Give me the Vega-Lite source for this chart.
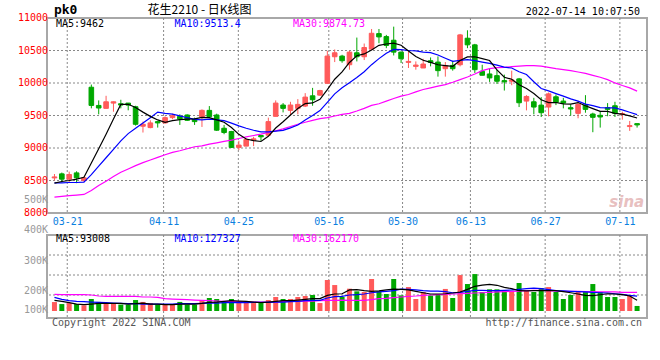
{
"$schema": "https://vega.github.io/schema/vega-lite/v6.json",
"background": "#ffffff",
"padding": {"left": 16, "top": 3, "right": 0, "bottom": 0},
"bounds": "flush",
"spacing": 22,
"config": {
 "font": "DejaVu Sans Mono",
 "view": {"stroke": "#a8a8a8", "strokeWidth": 2},
 "axis": {"labelFont": "DejaVu Sans Mono", "labelFontSize": 10, "ticks": false, "domain": false, "grid": false},
 "text": {"font": "DejaVu Sans Mono", "fontSize": 10}
},
"datasets": {"k": [
{"i":0,"d":"03-17","o":8540,"h":8600,"l":8500,"c":8555,"m5":8459,"m10":8464,"m30":8245,"v":71000,"vm5":85000,"vm10":108000,"vm30":132000},
{"i":1,"d":"03-18","o":8602,"h":8622,"l":8470,"c":8520,"m5":8485,"m10":8464,"m30":8256,"v":55000,"vm5":77000,"vm10":92000,"vm30":130000},
{"i":2,"d":"03-21","o":8520,"h":8637,"l":8475,"c":8592,"m5":8500,"m10":8469,"m30":8266,"v":63000,"vm5":66000,"vm10":82000,"vm30":130000},
{"i":3,"d":"03-22","o":8617,"h":8642,"l":8459,"c":8541,"m5":8520,"m10":8469,"m30":8276,"v":55000,"vm5":55000,"vm10":77000,"vm30":130000},
{"i":4,"d":"03-23","o":8500,"h":8561,"l":8480,"c":8541,"m5":8549,"m10":8474,"m30":8286,"v":45000,"vm5":50000,"vm10":74000,"vm30":130000},
{"i":5,"d":"03-24","o":9935,"h":9976,"l":9610,"c":9655,"m5":8770,"m10":8590,"m30":8347,"v":95000,"vm5":55000,"vm10":71000,"vm30":127000},
{"i":6,"d":"03-25","o":9655,"h":9732,"l":9518,"c":9615,"m5":8989,"m10":8720,"m30":8424,"v":72000,"vm5":61000,"vm10":69000,"vm30":119000},
{"i":7,"d":"03-28","o":9610,"h":9803,"l":9610,"c":9711,"m5":9213,"m10":8850,"m30":8490,"v":63000,"vm5":61000,"vm10":66000,"vm30":116000},
{"i":8,"d":"03-29","o":9691,"h":9715,"l":9558,"c":9711,"m5":9447,"m10":8980,"m30":8561,"v":63000,"vm5":61000,"vm10":63000,"vm30":116000},
{"i":9,"d":"03-30","o":9681,"h":9742,"l":9610,"c":9661,"m5":9671,"m10":9110,"m30":8627,"v":51000,"vm5":61000,"vm10":61000,"vm30":116000},
{"i":10,"d":"03-31","o":9691,"h":9691,"l":9580,"c":9660,"m5":9672,"m10":9221,"m30":8678,"v":51000,"vm5":55000,"vm10":58000,"vm30":116000},
{"i":11,"d":"04-01","o":9635,"h":9650,"l":9345,"c":9365,"m5":9622,"m10":9305,"m30":8729,"v":87000,"vm5":58000,"vm10":58000,"vm30":116000},
{"i":12,"d":"04-06","o":9335,"h":9406,"l":9238,"c":9365,"m5":9552,"m10":9383,"m30":8775,"v":72000,"vm5":63000,"vm10":55000,"vm30":111000},
{"i":13,"d":"04-07","o":9314,"h":9426,"l":9304,"c":9386,"m5":9487,"m10":9467,"m30":8816,"v":63000,"vm5":55000,"vm10":55000,"vm30":111000},
{"i":14,"d":"04-08","o":9406,"h":9416,"l":9314,"c":9386,"m5":9432,"m10":9552,"m30":8856,"v":51000,"vm5":55000,"vm10":55000,"vm30":108000},
{"i":15,"d":"04-11","o":9386,"h":9487,"l":9375,"c":9467,"m5":9394,"m10":9533,"m30":8897,"v":51000,"vm5":50000,"vm10":55000,"vm30":98000},
{"i":16,"d":"04-12","o":9467,"h":9528,"l":9441,"c":9497,"m5":9420,"m10":9521,"m30":8933,"v":51000,"vm5":50000,"vm10":55000,"vm30":95000},
{"i":17,"d":"04-13","o":9487,"h":9518,"l":9355,"c":9447,"m5":9437,"m10":9495,"m30":8958,"v":72000,"vm5":55000,"vm10":58000,"vm30":92000},
{"i":18,"d":"04-14","o":9508,"h":9518,"l":9416,"c":9426,"m5":9445,"m10":9466,"m30":8989,"v":51000,"vm5":55000,"vm10":58000,"vm30":90000},
{"i":19,"d":"04-15","o":9441,"h":9467,"l":9355,"c":9406,"m5":9449,"m10":9441,"m30":9019,"v":51000,"vm5":55000,"vm10":58000,"vm30":87000},
{"i":20,"d":"04-18","o":9477,"h":9594,"l":9324,"c":9579,"m5":9471,"m10":9432,"m30":9034,"v":87000,"vm5":61000,"vm10":61000,"vm30":85000},
{"i":21,"d":"04-19","o":9579,"h":9645,"l":9467,"c":9482,"m5":9468,"m10":9444,"m30":9060,"v":103000,"vm5":69000,"vm10":63000,"vm30":82000},
{"i":22,"d":"04-20","o":9508,"h":9528,"l":9263,"c":9274,"m5":9433,"m10":9435,"m30":9080,"v":95000,"vm5":71000,"vm10":63000,"vm30":79000},
{"i":23,"d":"04-21","o":9304,"h":9355,"l":9212,"c":9238,"m5":9396,"m10":9420,"m30":9101,"v":76000,"vm5":77000,"vm10":66000,"vm30":77000},
{"i":24,"d":"04-22","o":9253,"h":9263,"l":9000,"c":9009,"m5":9316,"m10":9383,"m30":9121,"v":95000,"vm5":82000,"vm10":66000,"vm30":74000},
{"i":25,"d":"04-25","o":9009,"h":9111,"l":8968,"c":9045,"m5":9210,"m10":9340,"m30":9146,"v":72000,"vm5":79000,"vm10":66000,"vm30":74000},
{"i":26,"d":"04-26","o":9029,"h":9151,"l":9029,"c":9131,"m5":9139,"m10":9304,"m30":9172,"v":72000,"vm5":77000,"vm10":66000,"vm30":71000},
{"i":27,"d":"04-27","o":9121,"h":9172,"l":9029,"c":9141,"m5":9113,"m10":9273,"m30":9192,"v":63000,"vm5":71000,"vm10":69000,"vm30":71000},
{"i":28,"d":"04-28","o":9192,"h":9192,"l":9111,"c":9172,"m5":9100,"m10":9248,"m30":9213,"v":63000,"vm5":66000,"vm10":69000,"vm30":71000},
{"i":29,"d":"04-29","o":9197,"h":9467,"l":9187,"c":9406,"m5":9179,"m10":9248,"m30":9238,"v":87000,"vm5":71000,"vm10":69000,"vm30":71000},
{"i":30,"d":"05-05","o":9487,"h":9732,"l":9487,"c":9691,"m5":9308,"m10":9259,"m30":9263,"v":111000,"vm5":77000,"vm10":71000,"vm30":71000},
{"i":31,"d":"05-06","o":9661,"h":9691,"l":9548,"c":9610,"m5":9404,"m10":9272,"m30":9294,"v":95000,"vm5":82000,"vm10":71000,"vm30":74000},
{"i":32,"d":"05-09","o":9579,"h":9711,"l":9508,"c":9661,"m5":9508,"m10":9310,"m30":9330,"v":95000,"vm5":82000,"vm10":74000,"vm30":77000},
{"i":33,"d":"05-10","o":9610,"h":9752,"l":9518,"c":9671,"m5":9608,"m10":9354,"m30":9365,"v":111000,"vm5":87000,"vm10":77000,"vm30":77000},
{"i":34,"d":"05-11","o":9645,"h":9844,"l":9630,"c":9783,"m5":9683,"m10":9431,"m30":9396,"v":119000,"vm5":92000,"vm10":82000,"vm30":79000},
{"i":35,"d":"05-12","o":9803,"h":9925,"l":9650,"c":9742,"m5":9693,"m10":9501,"m30":9426,"v":127000,"vm5":98000,"vm10":85000,"vm30":79000},
{"i":36,"d":"05-13","o":9813,"h":9895,"l":9803,"c":9884,"m5":9748,"m10":9576,"m30":9452,"v":63000,"vm5":98000,"vm10":85000,"vm30":82000},
{"i":37,"d":"05-16","o":9996,"h":10495,"l":9986,"c":10414,"m5":9899,"m10":9703,"m30":9467,"v":246000,"vm5":124000,"vm10":103000,"vm30":85000},
{"i":38,"d":"05-17","o":10404,"h":10516,"l":10322,"c":10465,"m5":10058,"m10":9833,"m30":9492,"v":206000,"vm5":135000,"vm10":114000,"vm30":85000},
{"i":39,"d":"05-18","o":10414,"h":10434,"l":10312,"c":10343,"m5":10170,"m10":9926,"m30":9518,"v":111000,"vm5":137000,"vm10":116000,"vm30":87000},
{"i":40,"d":"05-19","o":10281,"h":10495,"l":10205,"c":10475,"m5":10316,"m10":10005,"m30":9533,"v":177000,"vm5":167000,"vm10":127000,"vm30":85000},
{"i":41,"d":"05-20","o":10465,"h":10699,"l":10332,"c":10404,"m5":10420,"m10":10084,"m30":9569,"v":156000,"vm5":169000,"vm10":130000,"vm30":85000},
{"i":42,"d":"05-23","o":10404,"h":10607,"l":10353,"c":10546,"m5":10447,"m10":10173,"m30":9610,"v":151000,"vm5":161000,"vm10":135000,"vm30":85000},
{"i":43,"d":"05-24","o":10521,"h":10831,"l":10505,"c":10765,"m5":10507,"m10":10282,"m30":9655,"v":254000,"vm5":156000,"vm10":145000,"vm30":90000},
{"i":44,"d":"05-25","o":10760,"h":10831,"l":10612,"c":10709,"m5":10580,"m10":10375,"m30":9681,"v":156000,"vm5":159000,"vm10":151000,"vm30":98000},
{"i":45,"d":"05-26","o":10714,"h":10740,"l":10536,"c":10577,"m5":10600,"m10":10458,"m30":9722,"v":135000,"vm5":167000,"vm10":156000,"vm30":100000},
{"i":46,"d":"05-27","o":10658,"h":10867,"l":10424,"c":10475,"m5":10614,"m10":10517,"m30":9762,"v":254000,"vm5":174000,"vm10":161000,"vm30":106000},
{"i":47,"d":"05-30","o":10475,"h":10485,"l":10307,"c":10373,"m5":10580,"m10":10513,"m30":9798,"v":124000,"vm5":172000,"vm10":174000,"vm30":111000},
{"i":48,"d":"05-31","o":10317,"h":10485,"l":10231,"c":10332,"m5":10493,"m10":10500,"m30":9823,"v":190000,"vm5":167000,"vm10":172000,"vm30":116000},
{"i":49,"d":"06-01","o":10256,"h":10332,"l":10205,"c":10276,"m5":10407,"m10":10493,"m30":9864,"v":95000,"vm5":156000,"vm10":167000,"vm30":119000},
{"i":50,"d":"06-02","o":10231,"h":10373,"l":10231,"c":10292,"m5":10350,"m10":10475,"m30":9900,"v":151000,"vm5":145000,"vm10":161000,"vm30":124000},
{"i":51,"d":"06-06","o":10343,"h":10393,"l":10256,"c":10317,"m5":10318,"m10":10466,"m30":9925,"v":124000,"vm5":135000,"vm10":158000,"vm30":127000},
{"i":52,"d":"06-07","o":10322,"h":10409,"l":10098,"c":10190,"m5":10281,"m10":10431,"m30":9951,"v":135000,"vm5":135000,"vm10":158000,"vm30":130000},
{"i":53,"d":"06-08","o":10220,"h":10322,"l":10098,"c":10266,"m5":10268,"m10":10381,"m30":9976,"v":175000,"vm5":137000,"vm10":153000,"vm30":132000},
{"i":54,"d":"06-09","o":10271,"h":10343,"l":10190,"c":10220,"m5":10257,"m10":10332,"m30":10012,"v":103000,"vm5":143000,"vm10":145000,"vm30":135000},
{"i":55,"d":"06-10","o":10281,"h":10755,"l":10256,"c":10740,"m5":10347,"m10":10348,"m30":10052,"v":285000,"vm5":151000,"vm10":148000,"vm30":137000},
{"i":56,"d":"06-13","o":10689,"h":10811,"l":10536,"c":10587,"m5":10401,"m10":10359,"m30":10093,"v":214000,"vm5":172000,"vm10":156000,"vm30":140000},
{"i":57,"d":"06-14","o":10587,"h":10602,"l":10154,"c":10205,"m5":10404,"m10":10343,"m30":10139,"v":293000,"vm5":196000,"vm10":164000,"vm30":143000},
{"i":58,"d":"06-15","o":10180,"h":10281,"l":10119,"c":10119,"m5":10374,"m10":10321,"m30":10190,"v":151000,"vm5":206000,"vm10":164000,"vm30":145000},
{"i":59,"d":"06-16","o":10139,"h":10220,"l":10017,"c":10078,"m5":10346,"m10":10301,"m30":10220,"v":172000,"vm5":212000,"vm10":161000,"vm30":148000},
{"i":60,"d":"06-17","o":10113,"h":10205,"l":9986,"c":10027,"m5":10203,"m10":10275,"m30":10236,"v":172000,"vm5":204000,"vm10":161000,"vm30":151000},
{"i":61,"d":"06-20","o":10037,"h":10129,"l":9884,"c":10017,"m5":10089,"m10":10245,"m30":10241,"v":161000,"vm5":188000,"vm10":164000,"vm30":153000},
{"i":62,"d":"06-21","o":10027,"h":10190,"l":9966,"c":10047,"m5":10058,"m10":10231,"m30":10251,"v":161000,"vm5":177000,"vm10":167000,"vm30":156000},
{"i":63,"d":"06-22","o":10063,"h":10078,"l":9630,"c":9696,"m5":9973,"m10":10174,"m30":10261,"v":222000,"vm5":161000,"vm10":172000,"vm30":158000},
{"i":64,"d":"06-23","o":9722,"h":9813,"l":9579,"c":9793,"m5":9916,"m10":10131,"m30":10266,"v":161000,"vm5":159000,"vm10":177000,"vm30":161000},
{"i":65,"d":"06-24","o":9711,"h":9772,"l":9518,"c":9630,"m5":9837,"m10":10020,"m30":10266,"v":151000,"vm5":161000,"vm10":182000,"vm30":164000},
{"i":66,"d":"06-27","o":9660,"h":9783,"l":9477,"c":9543,"m5":9742,"m10":9916,"m30":10261,"v":182000,"vm5":161000,"vm10":177000,"vm30":164000},
{"i":67,"d":"06-28","o":9630,"h":9854,"l":9487,"c":9833,"m5":9699,"m10":9878,"m30":10241,"v":190000,"vm5":161000,"vm10":169000,"vm30":161000},
{"i":68,"d":"06-29","o":9788,"h":9823,"l":9660,"c":9701,"m5":9700,"m10":9837,"m30":10220,"v":151000,"vm5":161000,"vm10":161000,"vm30":158000},
{"i":69,"d":"06-30","o":9722,"h":9772,"l":9610,"c":9691,"m5":9680,"m10":9798,"m30":10205,"v":95000,"vm5":153000,"vm10":159000,"vm30":156000},
{"i":70,"d":"07-01","o":9620,"h":9671,"l":9498,"c":9600,"m5":9674,"m10":9755,"m30":10190,"v":127000,"vm5":145000,"vm10":156000,"vm30":156000},
{"i":71,"d":"07-04","o":9533,"h":9722,"l":9457,"c":9671,"m5":9699,"m10":9721,"m30":10169,"v":151000,"vm5":135000,"vm10":153000,"vm30":156000},
{"i":72,"d":"07-05","o":9660,"h":9813,"l":9543,"c":9594,"m5":9651,"m10":9675,"m30":10149,"v":151000,"vm5":124000,"vm10":151000,"vm30":153000},
{"i":73,"d":"07-06","o":9523,"h":9543,"l":9243,"c":9472,"m5":9606,"m10":9653,"m30":10118,"v":214000,"vm5":122000,"vm10":148000,"vm30":153000},
{"i":74,"d":"07-07","o":9503,"h":9569,"l":9314,"c":9477,"m5":9563,"m10":9621,"m30":10088,"v":151000,"vm5":129000,"vm10":145000,"vm30":151000},
{"i":75,"d":"07-08","o":9620,"h":9691,"l":9488,"c":9594,"m5":9562,"m10":9618,"m30":10052,"v":111000,"vm5":137000,"vm10":143000,"vm30":151000},
{"i":76,"d":"07-11","o":9650,"h":9711,"l":9477,"c":9533,"m5":9534,"m10":9617,"m30":10001,"v":111000,"vm5":135000,"vm10":137000,"vm30":151000},
{"i":77,"d":"07-12","o":9518,"h":9559,"l":9436,"c":9530,"m5":9521,"m10":9586,"m30":9961,"v":95000,"vm5":130000,"vm10":132000,"vm30":148000},
{"i":78,"d":"07-13","o":9330,"h":9416,"l":9263,"c":9345,"m5":9494,"m10":9550,"m30":9925,"v":124000,"vm5":119000,"vm10":124000,"vm30":148000},
{"i":79,"d":"07-14","o":9375,"h":9375,"l":9314,"c":9355,"m5":9462,"m10":9513,"m30":9875,"v":40000,"vm5":86000,"vm10":118000,"vm30":148000}
],
"xgrid": [{"g": 1.7333}, {"g": 14.8}, {"g": 24.9333}, {"g": 37.2}, {"g": 47.2}, {"g": 56.4}, {"g": 66.5333}, {"g": 76.6667}],
"pgrid": [{"p": 8000}, {"p": 8500}, {"p": 9000}, {"p": 9500}, {"p": 10000}, {"p": 10500}, {"p": 11000}],
"vgrid": [{"g": 127000}, {"g": 285700}, {"g": 444400}]
},
"vconcat": [
{
 "width": 600, "height": 195,
 "layer": [
  {"data": {"name": "xgrid"}, "mark": {"type": "rule", "color": "#888888", "strokeWidth": 1, "strokeDash": [2, 2], "opacity": 1},
   "encoding": {"x": {"field": "g", "type": "quantitative"}}},
  {"data": {"name": "pgrid"}, "transform": [{"filter": "datum.p > 8000 && datum.p < 11000"}], "mark": {"type": "rule", "color": "#888888", "strokeWidth": 1, "strokeDash": [2, 2], "opacity": 1},
   "encoding": {"y": {"field": "p", "type": "quantitative", "axis": null}}},
  {"data": {"name": "k"}, "mark": {"type": "rule", "strokeWidth": 1},
   "encoding": {
    "x": {"field": "i", "type": "quantitative", "title": null, "scale": {"domain": [-0.3333, 79.6667], "nice": false, "zero": false},
      "axis": {"values": [1.7333, 14.8, 24.9333, 37.2, 47.2, 56.4, 66.5333, 76.6667], "grid": false, "labelColor": "#0a80e0", "labelPadding": 3, "labelOverlap": false, "labelFlush": false,
        "labelExpr": "datum.value < 5 ? '03-21' : datum.value < 20 ? '04-11' : datum.value < 30 ? '04-25' : datum.value < 40 ? '05-16' : datum.value < 50 ? '05-30' : datum.value < 60 ? '06-13' : datum.value < 70 ? '06-27' : '07-11'"}},
    "y": {"field": "l", "type": "quantitative", "title": null, "axis": null, "scale": {"domain": [8000, 11000], "nice": false, "zero": false}},
    "y2": {"field": "h"},
    "color": {"condition": {"test": "datum.c >= datum.o", "value": "#ff5a5a"}, "value": "#00a800"}
   }},
  {"data": {"name": "k"}, "mark": {"type": "bar", "size": 4.6, "strokeWidth": 1},
   "encoding": {
    "x": {"field": "i", "type": "quantitative"},
    "y": {"field": "o", "type": "quantitative", "axis": null},
    "y2": {"field": "c"},
    "color": {"condition": {"test": "datum.c >= datum.o", "value": "#ff5a5a"}, "value": "#00a800"},
    "stroke": {"condition": {"test": "datum.c >= datum.o", "value": "#ff5a5a"}, "value": "#00a800"}
   }},
  {"data": {"name": "k"}, "mark": {"type": "line", "color": "#ff00ff", "strokeWidth": 1.2},
   "encoding": {"x": {"field": "i", "type": "quantitative"}, "y": {"field": "m30", "type": "quantitative", "axis": null}}},
  {"data": {"name": "k"}, "mark": {"type": "line", "color": "#0000ff", "strokeWidth": 1.2},
   "encoding": {"x": {"field": "i", "type": "quantitative"}, "y": {"field": "m10", "type": "quantitative", "axis": null}}},
  {"data": {"name": "k"}, "mark": {"type": "line", "color": "#000000", "strokeWidth": 1.2},
   "encoding": {"x": {"field": "i", "type": "quantitative"}, "y": {"field": "m5", "type": "quantitative", "axis": null}}},
  {"data": {"name": "pgrid"}, "mark": {"type": "text", "align": "right", "baseline": "middle", "color": "#ff0000"},
   "encoding": {"text": {"field": "p", "type": "quantitative", "format": "d"}, "x": {"datum": -0.87, "type": "quantitative"}, "y": {"field": "p", "type": "quantitative", "axis": null}}},
  {"data": {"values": [{"t": "MA5:9462"}]}, "mark": {"type": "text", "align": "left", "baseline": "middle", "color": "#000000"},
   "encoding": {"text": {"field": "t"}, "x": {"datum": 0.2, "type": "quantitative"}, "y": {"datum": 10905, "type": "quantitative", "axis": null}}},
  {"data": {"values": [{"t": "MA10:9513.4"}]}, "mark": {"type": "text", "align": "left", "baseline": "middle", "color": "#0000ff"},
   "encoding": {"text": {"field": "t"}, "x": {"datum": 16.27, "type": "quantitative"}, "y": {"datum": 10905, "type": "quantitative", "axis": null}}},
  {"data": {"values": [{"t": "MA30:9874.73"}]}, "mark": {"type": "text", "align": "left", "baseline": "middle", "color": "#ff00ff"},
   "encoding": {"text": {"field": "t"}, "x": {"datum": 32.33, "type": "quantitative"}, "y": {"datum": 10905, "type": "quantitative", "axis": null}}},
  {"data": {"values": [{"t": "pk0"}]}, "mark": {"type": "text", "align": "left", "baseline": "middle", "fontWeight": "bold", "fontSize": 13, "color": "#000000"},
   "encoding": {"text": {"field": "t"}, "x": {"datum": -0.07, "type": "quantitative"}, "y": {"datum": 11123, "type": "quantitative", "axis": null}}},
  {"data": {"values": [{"t": "花生2210 - 日K线图"}]}, "mark": {"type": "text", "align": "center", "baseline": "middle", "font": "Noto Sans CJK SC", "fontSize": 12, "color": "#000000"},
   "encoding": {"text": {"field": "t"}, "x": {"datum": 19.67, "type": "quantitative"}, "y": {"datum": 11123, "type": "quantitative", "axis": null}}},
  {"data": {"values": [{"t": "2022-07-14 10:07:50"}]}, "mark": {"type": "text", "align": "right", "baseline": "middle", "color": "#000000"},
   "encoding": {"text": {"field": "t"}, "x": {"datum": 79.4, "type": "quantitative"}, "y": {"datum": 11092, "type": "quantitative", "axis": null}}},
  {"data": {"values": [{"t": "500K"}]}, "mark": {"type": "text", "align": "right", "baseline": "middle", "color": "#999999"},
   "encoding": {"text": {"field": "t"}, "x": {"datum": -0.87, "type": "quantitative"}, "y": {"datum": 8200, "type": "quantitative", "axis": null}}},
  {"data": {"values": [{"t": "sina"}]}, "mark": {"type": "text", "align": "center", "baseline": "middle", "fontStyle": "italic", "fontWeight": "bold", "fontSize": 15, "font": "DejaVu Sans", "color": "#e8c0c0"},
   "encoding": {"text": {"field": "t"}, "x": {"datum": 77.6, "type": "quantitative"}, "y": {"datum": 8170, "type": "quantitative", "axis": null}}}
 ]
},
{
 "width": 600, "height": 83,
 "layer": [
  {"data": {"name": "xgrid"}, "mark": {"type": "rule", "color": "#888888", "strokeWidth": 1, "strokeDash": [2, 2], "opacity": 1},
   "encoding": {"x": {"field": "g", "type": "quantitative", "axis": null}}},
  {"data": {"name": "vgrid"}, "mark": {"type": "rule", "color": "#888888", "strokeWidth": 1, "strokeDash": [2, 2], "opacity": 1},
   "encoding": {"y": {"field": "g", "type": "quantitative", "axis": null}}},
  {"data": {"name": "k"}, "mark": {"type": "bar", "size": 5},
   "encoding": {
    "x": {"field": "i", "type": "quantitative", "axis": null, "scale": {"domain": [-0.3333, 79.6667], "nice": false, "zero": false}},
    "y": {"field": "v", "type": "quantitative", "axis": null, "scale": {"domain": [-55600, 603200], "nice": false, "zero": false}},
    "y2": {"datum": 0},
    "color": {"condition": {"test": "datum.c >= datum.o", "value": "#ff5a5a"}, "value": "#00a800"}
   }},
  {"data": {"name": "k"}, "mark": {"type": "line", "color": "#ff00ff", "strokeWidth": 1.2},
   "encoding": {"x": {"field": "i", "type": "quantitative", "axis": null}, "y": {"field": "vm30", "type": "quantitative", "axis": null}}},
  {"data": {"name": "k"}, "mark": {"type": "line", "color": "#0000ff", "strokeWidth": 1.2},
   "encoding": {"x": {"field": "i", "type": "quantitative", "axis": null}, "y": {"field": "vm10", "type": "quantitative", "axis": null}}},
  {"data": {"name": "k"}, "mark": {"type": "line", "color": "#000000", "strokeWidth": 1.2},
   "encoding": {"x": {"field": "i", "type": "quantitative", "axis": null}, "y": {"field": "vm5", "type": "quantitative", "axis": null}}},
  {"data": {"values": [{"t": "MA5:93008"}]}, "mark": {"type": "text", "align": "left", "baseline": "middle", "color": "#000000"},
   "encoding": {"text": {"field": "t"}, "x": {"datum": 0.2, "type": "quantitative", "axis": null}, "y": {"datum": 571000, "type": "quantitative", "axis": null}}},
  {"data": {"values": [{"t": "MA10:127327"}]}, "mark": {"type": "text", "align": "left", "baseline": "middle", "color": "#0000ff"},
   "encoding": {"text": {"field": "t"}, "x": {"datum": 16.27, "type": "quantitative", "axis": null}, "y": {"datum": 571000, "type": "quantitative", "axis": null}}},
  {"data": {"values": [{"t": "MA30:162170"}]}, "mark": {"type": "text", "align": "left", "baseline": "middle", "color": "#ff00ff"},
   "encoding": {"text": {"field": "t"}, "x": {"datum": 32.33, "type": "quantitative", "axis": null}, "y": {"datum": 571000, "type": "quantitative", "axis": null}}},
  {"data": {"values": [{"t": "400K"}]}, "mark": {"type": "text", "align": "right", "baseline": "middle", "color": "#999999"},
   "encoding": {"text": {"field": "t"}, "x": {"datum": -0.87, "type": "quantitative", "axis": null}, "y": {"datum": 643000, "type": "quantitative", "axis": null}}},
  {"data": {"values": [{"t": "300K"}]}, "mark": {"type": "text", "align": "right", "baseline": "middle", "color": "#999999"},
   "encoding": {"text": {"field": "t"}, "x": {"datum": -0.87, "type": "quantitative", "axis": null}, "y": {"datum": 397000, "type": "quantitative", "axis": null}}},
  {"data": {"values": [{"t": "200K"}]}, "mark": {"type": "text", "align": "right", "baseline": "middle", "color": "#999999"},
   "encoding": {"text": {"field": "t"}, "x": {"datum": -0.87, "type": "quantitative", "axis": null}, "y": {"datum": 159000, "type": "quantitative", "axis": null}}},
  {"data": {"values": [{"t": "100K"}]}, "mark": {"type": "text", "align": "right", "baseline": "middle", "color": "#999999"},
   "encoding": {"text": {"field": "t"}, "x": {"datum": -0.87, "type": "quantitative", "axis": null}, "y": {"datum": 7900, "type": "quantitative", "axis": null}}},
  {"data": {"values": [{"t": "Copyright 2022 SINA.COM"}]}, "mark": {"type": "text", "align": "left", "baseline": "middle", "color": "#555555"},
   "encoding": {"text": {"field": "t"}, "x": {"datum": -0.3333, "type": "quantitative", "axis": null}, "y": {"datum": -95000, "type": "quantitative", "axis": null}}},
  {"data": {"values": [{"t": "http://finance.sina.com.cn"}]}, "mark": {"type": "text", "align": "right", "baseline": "middle", "color": "#555555"},
   "encoding": {"text": {"field": "t"}, "x": {"datum": 79.6667, "type": "quantitative", "axis": null}, "y": {"datum": -95000, "type": "quantitative", "axis": null}}}
 ]
}
]
}
